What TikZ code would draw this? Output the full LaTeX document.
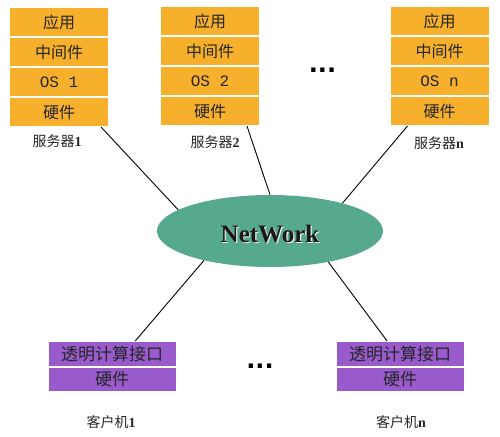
\documentclass[tikz,border=0pt]{standalone}
\usepackage{fontspec}
\setmainfont{Liberation Serif}
\setmonofont{Liberation Mono}
\newfontfamily\cjk{Noto Sans CJK SC}
\newfontfamily\dotfont{DejaVu Sans}
\usetikzlibrary{shapes.geometric,calc}
\definecolor{srvorange}{RGB}{246,176,44}
\definecolor{clipurple}{RGB}{153,90,204}
\definecolor{netgreen}{RGB}{86,168,142}
\tikzset{
  srvrow/.style={draw=white, line width=1pt, fill=srvorange, inner sep=0pt,
    minimum width=99pt, minimum height=29pt, anchor=north,
    font=\cjk\fontsize{16}{16}\selectfont, text=black!85},
  clirow/.style={draw=white, line width=1pt, fill=clipurple, inner sep=0pt,
    minimum width=128pt, minimum height=24.5pt, anchor=north,
    font=\cjk\fontsize{17}{17}\selectfont, text=black!85},
  caption/.style={font=\cjk\fontsize{14}{14}\selectfont, text=black!85},
  link/.style={line width=0.9pt, black},
  dots/.style={font=\dotfont\bfseries\fontsize{24}{24}\selectfont}
}
\begin{document}
\begin{tikzpicture}[x=1pt,y=-1pt]
\useasboundingbox (0,0) rectangle (500,436);
% server 1
\node[srvrow] (s1a) at (59,7) {应用};
\node[srvrow] (s1b) at (s1a.south) {中间件};
\node[srvrow] (s1c) at (s1b.south) {\ttfamily OS 1};
\node[srvrow] (s1d) at (s1c.south) {硬件};
\node[caption] (s1l) at (57,141) {服务器\textrm{\bfseries 1}};
% server 2
\node[srvrow] (s2a) at (210,6) {应用};
\node[srvrow] (s2b) at (s2a.south) {中间件};
\node[srvrow] (s2c) at (s2b.south) {\ttfamily OS 2};
\node[srvrow] (s2d) at (s2c.south) {硬件};
\node[caption] (s2l) at (215,142) {服务器\textrm{\bfseries 2}};
% server n
\node[srvrow] (sna) at (439.5,6) {应用};
\node[srvrow] (snb) at (sna.south) {中间件};
\node[srvrow] (snc) at (snb.south) {\ttfamily OS n};
\node[srvrow] (snd) at (snc.south) {硬件};
\node[caption] (snl) at (439,143) {服务器\textrm{\bfseries n}};
% dots
\node[dots] (d1) at (322.5,70) {...};
\node[dots] (d2) at (260,366) {...};
% network
\node[ellipse, fill=netgreen, minimum width=226pt, minimum height=72pt, inner sep=0pt] (net) at (270,231) {};
\node[font=\bfseries\fontsize{25}{25}\selectfont, text=white!85!gray] (nets) at (271.2,235.2) {NetWork};
\node[font=\bfseries\fontsize{25}{25}\selectfont, text=black!90] (nett) at (270,234) {NetWork};
% clients
\node[clirow] (c1a) at (112,341) {透明计算接口};
\node[clirow] (c1b) at (c1a.south) {硬件};
\node[caption] (c1l) at (111,422) {客户机\textrm{\bfseries 1}};
\node[clirow] (cna) at (400,341) {透明计算接口};
\node[clirow] (cnb) at (cna.south) {硬件};
\node[caption] (cnl) at (401,422) {客户机\textrm{\bfseries n}};
% links
\draw[link] ($(s1d.south west)!0.92!(s1d.south east)$) -- (net.167);
\draw[link] ($(s2d.south west)!0.87!(s2d.south east)$) -- (net.90);
\draw[link] ($(snd.south west)!0.18!(snd.south east)$) -- (net.21);
\draw[link] ($(c1a.north west)!0.68!(c1a.north east)$) -- (net.204);
\draw[link] ($(cna.north west)!0.40!(cna.north east)$) -- (net.332);
\end{tikzpicture}
\end{document}
